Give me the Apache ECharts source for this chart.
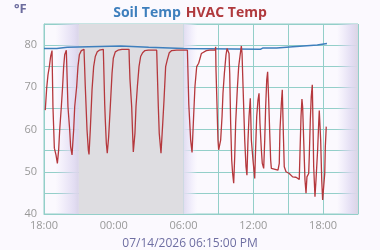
<!DOCTYPE html>
<html>
<head>
<meta charset="utf-8">
<script src="https://cdn.jsdelivr.net/npm/echarts@6/dist/echarts.min.js"></script>
<style>html,body{margin:0;padding:0;background:#fbf9fe;}#c{width:380px;height:250px;}</style>
</head>
<body>
<div id="c"></div>
<script>
// hours since 07/13/2026 18:00
var soilHours = [0, 1.1, 1.2, 2.0, 2.1, 6.6, 6.7, 9.0, 9.1, 12.0, 12.1, 18.6, 18.8, 20.0, 20.1, 21.4, 21.5, 23.5, 23.6, 24.33];
var soilTemp  = [79.2, 79.2, 79.5, 79.5, 79.8, 79.8, 79.5, 79.5, 79.2, 79.2, 79.0, 79.0, 79.3, 79.3, 79.6, 79.6, 80.0, 80.0, 80.3, 80.4];

var hvacHours = [0.11,0.23,0.34,0.46,0.57,0.69,0.75,0.77,0.89,1.03,1.15,1.20,1.26,1.35,1.49,1.60,1.69,1.78,1.92,2.04,
  2.06,2.21,2.29,2.41,2.44,2.55,2.64,2.81,2.92,3.04,3.21,3.44,3.50,3.55,3.70,3.81,3.87,3.98,4.13,4.27,
  4.41,4.58,4.76,5.10,5.16,5.22,5.27,5.36,5.44,5.56,5.70,5.85,5.96,6.13,6.36,6.71,7.31,7.34,7.39,7.54,
  7.62,7.68,7.82,7.91,8.03,8.17,8.31,8.48,8.68,8.97,9.69,9.83,9.91,10.06,10.21,10.32,10.46,10.60,10.77,10.98,
  11.41,12.33,12.45,12.61,12.73,12.84,12.98,13.13,13.30,13.53,13.96,14.25,14.73,14.76,14.79,14.88,14.96,15.02,15.10,15.19,
  15.31,15.39,15.51,15.65,15.74,15.88,15.91,15.97,16.05,16.14,16.22,16.31,16.40,16.48,16.62,16.74,16.88,16.97,17.03,17.08,
  17.17,17.26,17.37,17.45,17.54,17.63,17.74,17.83,17.97,18.12,18.20,18.29,18.40,18.49,18.57,18.69,18.77,18.89,18.98,19.06,
  19.15,19.23,19.32,19.41,19.49,19.55,19.69,20.12,20.18,20.23,20.29,20.41,20.49,20.58,20.66,20.81,21.09,21.38,21.67,21.95,
  22.01,22.10,22.18,22.24,22.33,22.44,22.53,22.61,22.76,22.81,22.90,22.98,23.07,23.13,23.19,23.30,23.39,23.53,23.62,23.67,
  23.79,23.88,23.96,24.05,24.14,24.19,24.27];
var hvacTemp = [64.6,69.8,72.9,74.9,77.3,78.7,78.8,65.4,55.6,54.0,52.0,51.8,55.2,59.9,65.4,70.2,74.9,77.7,78.8,79.0,
  65.4,59.9,55.9,54.0,53.8,59.9,65.4,70.2,74.9,77.7,78.7,79.0,79.0,70.2,59.9,55.2,54.1,59.9,69.4,74.9,
  77.3,78.4,78.8,79.0,79.0,66.0,62.3,56.7,54.4,58.3,65.4,73.3,76.9,78.4,78.8,79.0,79.0,76.0,72.0,65.4,
  59.1,54.7,59.1,65.4,70.2,74.9,77.3,78.2,78.7,78.8,78.8,65.4,59.1,54.4,61.5,67.0,74.9,76.5,78.2,78.7,
  78.8,78.8,66.0,57.5,54.6,61.5,70.2,74.9,75.7,78.0,78.7,78.8,78.8,79.6,74.1,65.4,57.5,55.2,54.9,57.5,
  63.1,68.6,73.3,77.7,79.2,79.6,78.0,73.3,61.5,52.8,49.6,47.3,53.6,61.5,69.4,74.9,78.0,79.8,78.0,73.3,
  65.4,57.5,51.2,49.2,57.5,63.1,67.4,57.5,52.8,48.4,55.9,63.1,67.0,68.6,61.5,55.2,52.0,50.8,57.5,65.4,
  71.7,73.7,67.0,59.1,52.8,50.8,50.6,50.4,50.3,52.0,59.9,66.2,69.4,59.1,51.2,50.0,49.6,48.8,48.7,48.2,
  54.4,63.1,67.2,65.4,57.5,48.1,44.9,48.8,49.6,53.6,62.3,67.8,70.6,61.5,51.2,44.1,48.1,55.2,61.5,64.5,
  57.5,48.1,43.3,46.5,49.6,55.9,60.7];

var titleSoil = 'Soil Temp', titleHvac = 'HVAC Temp', unitLabel = '°F', stamp = '07/14/2026 06:15:00 PM';

function zip(a, b) { return a.map(function (v, i) { return [v, b[i]]; }); }
function pad(n) { return (n < 10 ? '0' : '') + n; }

var grid = '#93cfc9';
var fontFam = 'Open Sans';
var chart = echarts.init(document.getElementById('c'), null, { renderer: 'canvas' });
chart.setOption({
  backgroundColor: '#fbf9fe',
  animation: false,
  title: [
    { text: '{a|' + titleSoil + '} {b|' + titleHvac + '}', left: 'center', top: -1,
      textStyle: { rich: {
        a: { color: '#3e7fbd', fontSize: 14, fontWeight: 'bold', fontFamily: fontFam },
        b: { color: '#b0393d', fontSize: 14, fontWeight: 'bold', fontFamily: fontFam } } } },
    { text: unitLabel, left: 9, top: -2, textStyle: { color: '#6c6c9e', fontSize: 13, fontWeight: 'bold', fontFamily: fontFam } },
    { text: stamp, left: 'center', top: 233, textStyle: { color: '#6e6ea2', fontSize: 12, fontWeight: 'normal', fontFamily: fontFam } }
  ],
  grid: { left: 44, right: 22, top: 24, bottom: 36, show: true, borderColor: grid, borderWidth: 1, backgroundColor: 'transparent' },
  xAxis: {
    type: 'value', min: 0, max: 27, interval: 3,
    axisLine: { show: true, lineStyle: { color: grid } },
    axisTick: { show: false },
    splitLine: { show: true, lineStyle: { color: grid, width: 1 } },
    axisLabel: { color: '#999', fontSize: 11, fontFamily: fontFam, margin: 6,
      formatter: function (v) { return v % 6 === 0 ? pad((18 + v) % 24) + ':00' : ''; } }
  },
  yAxis: {
    type: 'value', min: 40, max: 85, interval: 5,
    axisLine: { show: true, lineStyle: { color: grid } },
    axisTick: { show: false },
    splitLine: { show: true, lineStyle: { color: grid, width: 1 } },
    axisLabel: { color: '#999', fontSize: 11, fontFamily: fontFam, margin: 7,
      formatter: function (v) { return (v % 10 === 0 && v < 85) ? String(v) : ''; } }
  },
  series: [
    { name: titleSoil, type: 'line', data: zip(soilHours, soilTemp), showSymbol: false,
      lineStyle: { color: '#3e7fbd', width: 1.5 }, z: 2,
      markArea: { silent: true, data: [
        [{ xAxis: 1.0, itemStyle: { color: new echarts.graphic.LinearGradient(0, 0, 1, 0, [
            { offset: 0, color: 'rgba(225,218,245,0)' }, { offset: 0.8, color: 'rgba(222,216,240,0.85)' }, { offset: 1, color: '#d9d4e8' }]) } }, { xAxis: 3 }],
        [{ xAxis: 3, itemStyle: { color: '#dedde1' } }, { xAxis: 12 }],
        [{ xAxis: 12, itemStyle: { color: new echarts.graphic.LinearGradient(0, 0, 1, 0, [
            { offset: 0, color: '#e0dcf0' }, { offset: 0.5, color: 'rgba(232,228,248,0.6)' }, { offset: 1, color: 'rgba(240,236,252,0)' }]) } }, { xAxis: 13.2 }],
        [{ xAxis: 25.2, itemStyle: { color: new echarts.graphic.LinearGradient(0, 0, 1, 0, [
            { offset: 0, color: 'rgba(225,218,245,0)' }, { offset: 0.7, color: 'rgba(222,216,240,0.85)' }, { offset: 1, color: '#dad5e4' }]) } }, { xAxis: 27 }]
      ] } },
    { name: titleHvac, type: 'line', data: zip(hvacHours, hvacTemp), showSymbol: false,
      lineStyle: { color: '#b5383d', width: 1.3 }, z: 3 }
  ]
});
</script>
</body>
</html>
